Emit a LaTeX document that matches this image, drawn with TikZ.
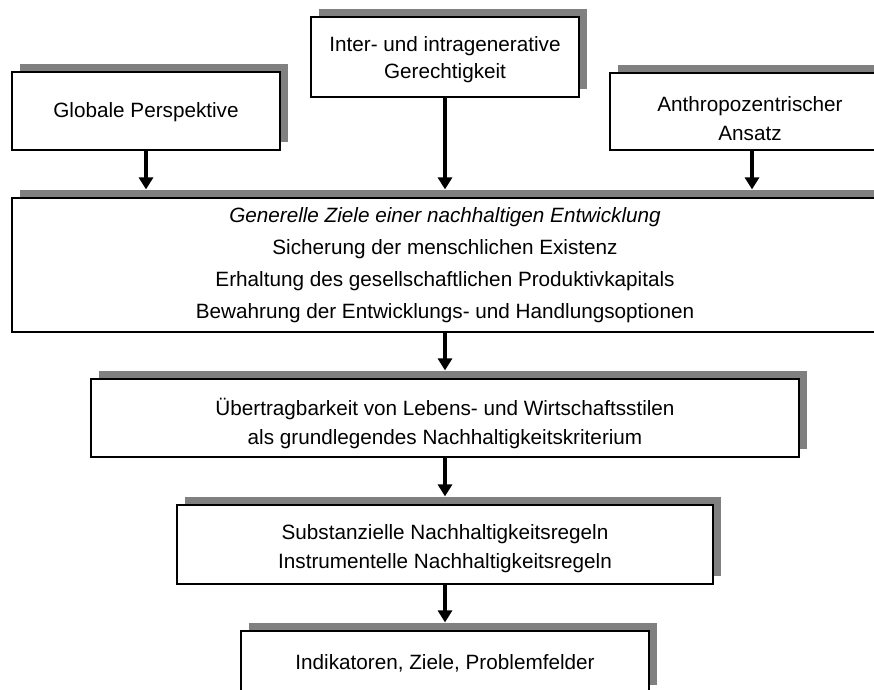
\documentclass[tikz,border=0pt]{standalone}
\usepackage{fontspec}
\setmainfont{Liberation Sans}
\usetikzlibrary{shadows,arrows.meta}
\definecolor{shadowgray}{HTML}{808080}
\tikzset{
  frame/.style={draw=black, line width=1.2pt, fill=white, inner sep=0pt,
    drop shadow={shadow xshift=8pt, shadow yshift=8pt, fill=shadowgray, opacity=1}},
  caption/.style={inner sep=0pt, align=center, font=\fontsize{20.7}{#1}\selectfont},
  caption/.default=29,
  flow/.style={line width=3.6pt, -{Triangle[length=12pt,width=14pt]}}
}
\begin{document}
\begin{tikzpicture}[x=1pt,y=-1pt]
\useasboundingbox (0,0) rectangle (874,689);
\clip (0,0) rectangle (874,689);

% top row: three starting points
\node[frame, minimum width=268pt, minimum height=78pt] (glob) at (146,111) {};
\node[caption] (glob-t) at (146,112) {Globale Perspektive};

\node[frame, minimum width=268pt, minimum height=80pt] (inter) at (445,57) {};
\node[caption=27] (inter-t) at (445,60) {Inter- und intragenerative\\Gerechtigkeit};

\node[frame, minimum width=280pt, minimum height=77pt] (anthro) at (750,111.5) {};
\node[caption] (anthro-t) at (750,119) {Anthropozentrischer\\Ansatz};

% general goals
\node[frame, minimum width=866pt, minimum height=134pt] (ziele) at (445,265) {};
\node[caption=32] (ziele-t) at (445,265.5)
  {\textit{Generelle Ziele einer nachhaltigen Entwicklung}\\
   Sicherung der menschlichen Existenz\\
   Erhaltung des gesellschaftlichen Produktivkapitals\\
   Bewahrung der Entwicklungs- und Handlungsoptionen};

% lower chain
\node[frame, minimum width=708pt, minimum height=78pt] (uebert) at (445,418) {};
\node[caption] (uebert-t) at (445,423)
  {Übertragbarkeit von Lebens- und Wirtschaftsstilen\\als grundlegendes Nachhaltigkeitskriterium};

\node[frame, minimum width=536pt, minimum height=79pt] (regeln) at (445,544.5) {};
\node[caption] (regeln-t) at (445,549)
  {Substanzielle Nachhaltigkeitsregeln\\Instrumentelle Nachhaltigkeitsregeln};

\node[frame, minimum width=408pt, minimum height=62pt] (indik) at (445,662) {};
\node[caption] (indik-t) at (445,663) {Indikatoren, Ziele, Problemfelder};

% connectors end on the top edge of each shadow
\draw[flow] (glob.south) -- ([yshift=8pt]ziele.north -| glob.south);
\draw[flow] (inter.south) -- ([yshift=8pt]ziele.north -| inter.south);
\draw[flow] ([xshift=2pt]anthro.south) -- ([xshift=2pt,yshift=8pt]ziele.north -| anthro.south);
\draw[flow] (ziele.south) -- ([yshift=8pt]uebert.north);
\draw[flow] (uebert.south) -- ([yshift=8pt]regeln.north);
\draw[flow] (regeln.south) -- ([yshift=8pt]indik.north);
\end{tikzpicture}
\end{document}
